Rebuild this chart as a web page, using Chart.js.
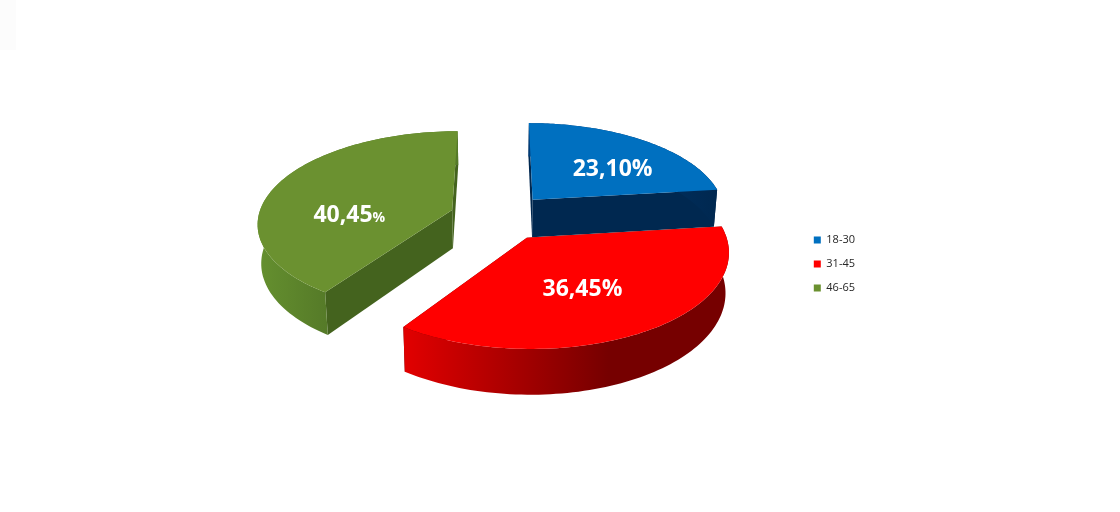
<!DOCTYPE html>
<html>
<head>
<meta charset="utf-8">
<title>Age groups</title>
<script src="https://cdn.jsdelivr.net/npm/chart.js@4/dist/chart.umd.min.js"></script>
<style>
    html, body { margin: 0; padding: 0; background: #fff; }
    #chart-wrap { position: relative; width: 1120px; height: 512px; }
    #corner { position: absolute; left: 0; top: 0; width: 16px; height: 50px; background: #fcfcfc; }
</style>
</head>
<body>
<div id="chart-wrap">
    <div id="corner"></div>
    <canvas id="chart-age" width="1120" height="512" style="position:absolute;left:0;top:0"></canvas>
</div>
<script>
const categories = ['18-30', '31-45', '46-65'];
const shares = [23.10, 36.45, 40.45];
const topColors = ['#0070c0', '#ff0000', '#6b9130'];
const faceColors = ['#002850', '#5c0000', '#44631e'];

// camera used to lay the flat pie on the floor
const view = { rx: 1.94, ry: 0.908, k: 0.13, lift: -47, depth: 38.5, shrink: 0.985 };

// outer wall shading, left to right
const wallStops = [
    [[0, '#003c78'], [1, '#002850']],
    [[0, '#e20000'], [0.63, '#760000'], [1, '#760000']],
    [[0, '#65902f'], [0.35, '#557a28'], [1, '#557a28']]
];

const labelNudge = [[16, 3], [-7, 3], [-5, 20]];

function project(arc, gx, gz, low) {
    const cx = arc.x, cy = arc.y + view.lift;
    const d = 1 + view.k * gz;
    let sx = cx + view.rx * arc.outerRadius * gx / d;
    let sy = cy - view.ry * arc.outerRadius * gz / d;
    if (low) {
        sx = cx + (sx - cx) * view.shrink;
        sy += view.depth / d;
    }
    return [sx, sy];
}

function slicePoints(arc, offset) {
    const a = arc.startAngle + Math.PI / 2;
    const b = arc.endAngle + Math.PI / 2;
    const mid = (a + b) / 2;
    const r = arc.outerRadius;
    const ox = Math.sin(mid) * offset / r;
    const oz = Math.cos(mid) * offset / r;
    const rim = [];
    for (let i = 0; i <= 90; i++) {
        const t = a + (b - a) * i / 90;
        rim.push([ox + Math.sin(t), oz + Math.cos(t)]);
    }
    return { rim, tip: [ox, oz], mid };
}

function fillPath(ctx, pts, style) {
    ctx.beginPath();
    pts.forEach((p, i) => i ? ctx.lineTo(p[0], p[1]) : ctx.moveTo(p[0], p[1]));
    ctx.closePath();
    ctx.fillStyle = style;
    ctx.fill();
}

const pie3d = {
    id: 'pie3d',
    beforeDatasetDraw(chart, args) {
        const ctx = chart.ctx;
        args.meta.data.forEach((arc, i) => {
            const { rim, tip } = slicePoints(arc, arc.options.offset);
            const up = rim.map(p => project(arc, p[0], p[1], false));
            const down = rim.map(p => project(arc, p[0], p[1], true));
            const tipUp = project(arc, tip[0], tip[1], false);
            const tipDown = project(arc, tip[0], tip[1], true);

            // radial faces
            fillPath(ctx, [tipUp, up[0], down[0], tipDown], faceColors[i]);
            fillPath(ctx, [tipUp, up[up.length - 1], down[down.length - 1], tipDown], faceColors[i]);

            // outer wall
            const xs = up.concat(down).map(p => p[0]);
            const grad = ctx.createLinearGradient(Math.min(...xs), 0, Math.max(...xs), 0);
            wallStops[i].forEach(s => grad.addColorStop(s[0], s[1]));
            fillPath(ctx, up.concat(down.slice().reverse()), grad);

            // top
            fillPath(ctx, [tipUp].concat(up), arc.options.backgroundColor);
        });
        return false;
    },
    afterDatasetsDraw(chart) {
        const ctx = chart.ctx;
        const meta = chart.getDatasetMeta(0);
        ctx.save();
        ctx.fillStyle = '#fff';
        ctx.textBaseline = 'middle';
        meta.data.forEach((arc, i) => {
            const { tip, mid } = slicePoints(arc, arc.options.offset);
            const p = project(arc, tip[0] + 0.55 * Math.sin(mid), tip[1] + 0.55 * Math.cos(mid), false);
            const x = p[0] + labelNudge[i][0], y = p[1] + labelNudge[i][1];
            const num = shares[i].toFixed(2).replace('.', ',');
            const bigFont = 'bold 23px "Open Sans"';
            const smallFont = 'bold 14px "Open Sans"';
            const pctFont = i === 2 ? smallFont : bigFont;
            ctx.font = bigFont;
            const w1 = ctx.measureText(num).width;
            ctx.font = pctFont;
            const w2 = ctx.measureText('%').width;
            const left = x - (w1 + w2) / 2;
            ctx.textAlign = 'left';
            ctx.font = bigFont;
            ctx.fillText(num, left, y);
            ctx.font = pctFont;
            ctx.fillText('%', left + w1, y + (i === 2 ? 2 : 0));
        });
        ctx.restore();
    }
};

new Chart(document.getElementById('chart-age'), {
    type: 'pie',
    data: {
        labels: categories,
        datasets: [{
            data: shares,
            backgroundColor: topColors,
            borderWidth: 0,
            offset: 26
        }]
    },
    options: {
        responsive: false,
        animation: false,
        radius: 100,
        layout: { padding: { left: 199, right: 255, top: 16 } },
        plugins: {
            tooltip: { enabled: false },
            legend: {
                position: 'right',
                labels: {
                    boxWidth: 7,
                    boxHeight: 7,
                    padding: 13,
                    color: '#262626',
                    font: { family: '"Open Sans"', size: 11 }
                }
            }
        }
    },
    plugins: [pie3d]
});
</script>
</body>
</html>
